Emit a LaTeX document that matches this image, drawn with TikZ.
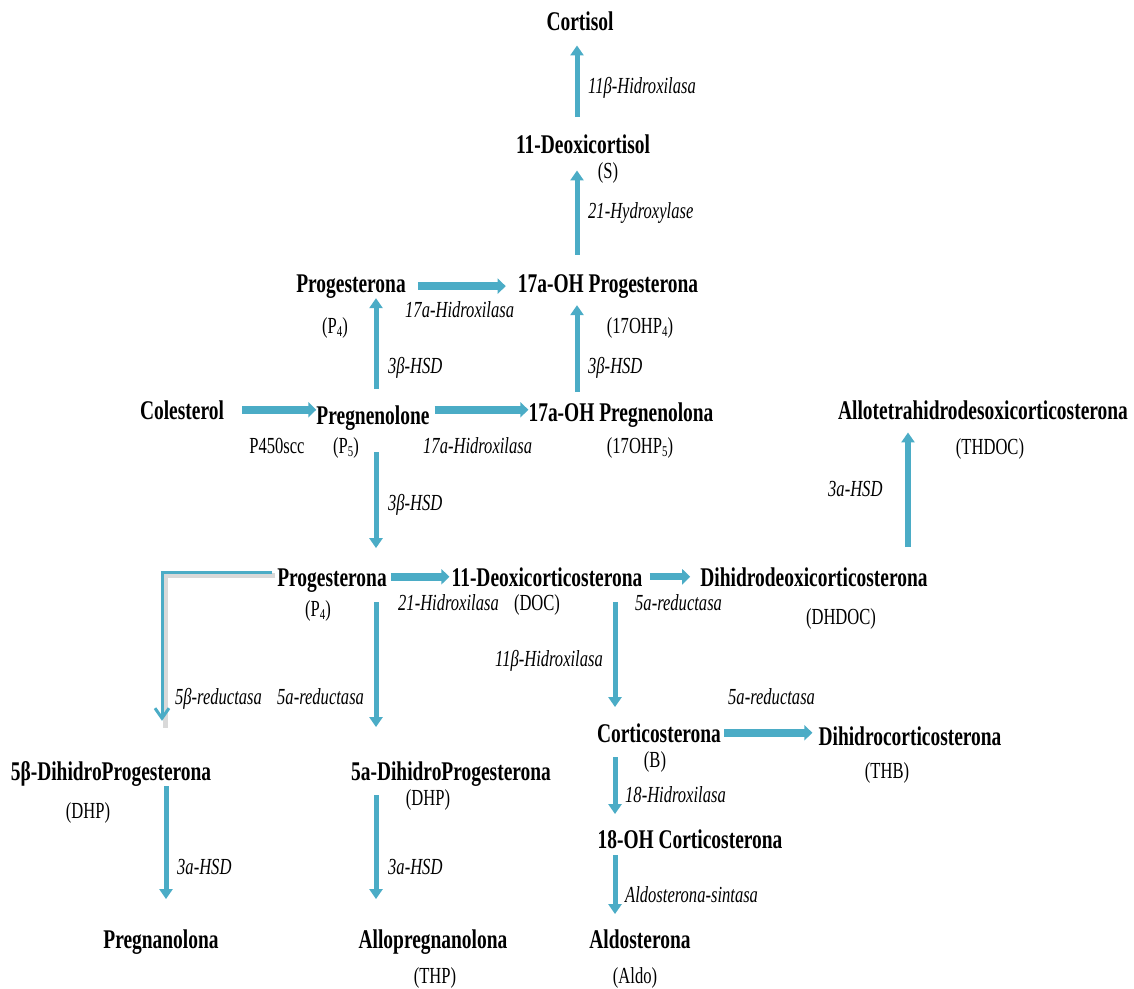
\documentclass[tikz,border=0pt]{standalone}
\usepackage{fontspec}
\setmainfont{Liberation Serif}[FakeStretch=0.72]
\usepackage{xcolor}
\usetikzlibrary{arrows.meta}
\definecolor{flowblue}{RGB}{75,172,198}
\newcommand{\lowidx}[1]{\raisebox{-0.3ex}{\fontsize{15}{15}\selectfont #1}}

\begin{document}
\begin{tikzpicture}[x=1pt, y=-1pt,
                    cmp/.style={anchor=base, inner sep=0pt, font=\fontsize{27}{30}\selectfont\bfseries},
                    abbr/.style={anchor=base, inner sep=0pt, font=\fontsize{23}{26}\selectfont},
                    enz/.style={anchor=base west, inner sep=0pt, font=\fontsize{23}{26}\selectfont\itshape},
                    vflow/.style={draw=flowblue, line width=5pt, -{Triangle[length=10pt,width=13pt]}},
                    hflow/.style={draw=flowblue, line width=8pt, -{Triangle[length=8pt,width=15pt]}}]
  \useasboundingbox (0,0) rectangle (1134,988);
  % columns of the vertical arrows
  \coordinate (cA) at (577,0);
  \coordinate (cB) at (376,0);
  \coordinate (cC) at (615,0);
  \coordinate (cD) at (908,0);
  \coordinate (cE) at (166,0);
  \coordinate (cL) at (162,0);

  % compounds
  \node[cmp] (cortisol) at (580,30) {Cortisol};
  \node[cmp] (deoxcort) at (583,153) {11-Deoxicortisol};
  \node[cmp] (progA) at (351,292) {Progesterona};
  \node[cmp] (ohprog) at (608,292) {17a-OH Progesterona};
  \node[cmp] (coles) at (182,419) {Colesterol};
  \node[cmp] (pregn) at (373,424) {Pregnenolone};
  \node[cmp] (ohpreg) at (621,421) {17a-OH Pregnenolona};
  \node[cmp] (allothdoc) at (983,419) {Allotetrahidrodesoxicorticosterona};
  \node[cmp] (progB) at (332,586) {Progesterona};
  \node[cmp] (doc) at (547,586) {11-Deoxicorticosterona};
  \node[cmp] (dhdoc) at (814,586) {Dihidrodeoxicorticosterona};
  \node[cmp] (cortic) at (659,742) {Corticosterona};
  \node[cmp] (dhcort) at (910,745) {Dihidrocorticosterona};
  \node[cmp] (dhpb) at (111,780) {5β-DihidroProgesterona};
  \node[cmp] (dhpa) at (451,780) {5a-DihidroProgesterona};
  \node[cmp] (ohcort) at (690,848) {18-OH Corticosterona};
  \node[cmp] (pregnan) at (161,948) {Pregnanolona};
  \node[cmp] (allop) at (433,948) {Allopregnanolona};
  \node[cmp] (aldo) at (640,948) {Aldosterona};

  % abbreviations
  \node[abbr] (s) at (608,178) {(S)};
  \node[abbr] (pfourA) at (335,333) {(P\lowidx{4})};
  \node[abbr] (ohpfour) at (640,333) {(17OHP\lowidx{4})};
  \node[abbr] (scc) at (277,453) {P450scc};
  \node[abbr] (pfive) at (346,453) {(P\lowidx{5})};
  \node[abbr] (ohpfive) at (640,453) {(17OHP\lowidx{5})};
  \node[abbr] (thdoc) at (990,454) {(THDOC)};
  \node[abbr] (pfourB) at (318,616) {(P\lowidx{4})};
  \node[abbr] (docab) at (537,610) {(DOC)};
  \node[abbr] (dhdocab) at (841,624) {(DHDOC)};
  \node[abbr] (b) at (655,767) {(B)};
  \node[abbr] (thb) at (887,778) {(THB)};
  \node[abbr] (dhpbab) at (88,818) {(DHP)};
  \node[abbr] (dhpaab) at (428,805) {(DHP)};
  \node[abbr] (thp) at (435,983) {(THP)};
  \node[abbr] (aldoab) at (635,983) {(Aldo)};

  % enzymes
  \node[enz] (eA) at (588,93) {11β-Hidroxilasa};
  \node[enz] (eB) at (588,218) {21-Hydroxylase};
  \node[enz] (eC) at (405,317) {17a-Hidroxilasa};
  \node[enz] (eD) at (388,373) {3β-HSD};
  \node[enz] (eE) at (588,373) {3β-HSD};
  \node[enz] (eF) at (423,453) {17a-Hidroxilasa};
  \node[enz] (eG) at (388,510) {3β-HSD};
  \node[enz] (eH) at (828,496) {3a-HSD};
  \node[enz] (eI) at (398,610) {21-Hidroxilasa};
  \node[enz] (eJ) at (635,610) {5a-reductasa};
  \node[enz] (eK) at (495,666) {11β-Hidroxilasa};
  \node[enz] (eL) at (175,704) {5β-reductasa};
  \node[enz] (eM) at (277,704) {5a-reductasa};
  \node[enz] (eN) at (728,704) {5a-reductasa};
  \node[enz] (eO) at (625,802) {18-Hidroxilasa};
  \node[enz] (eP) at (177,874) {3a-HSD};
  \node[enz] (eQ) at (388,874) {3a-HSD};
  \node[enz] (eR) at (625,902) {Aldosterona-sintasa};

  % horizontal steps
  \draw[hflow, shorten <=18pt] (coles.east) -- (coles.east -| pregn.west);
  \draw[hflow, shorten <=5pt] (coles.east -| pregn.east) -- (coles.east -| ohpreg.west);
  \draw[hflow, shorten <=12pt, shorten >=12pt] (progA.east) -- (progA.east -| ohprog.west);
  \draw[hflow, shorten <=4pt, shorten >=2pt] (doc.west -| progB.east) -- (doc.west);
  \draw[hflow, line width=7pt, shorten <=7pt, shorten >=10pt] (doc.east) -- (doc.east -| dhdoc.west);
  \draw[hflow, shorten <=3pt, shorten >=6pt] (cortic.east) -- (cortic.east -| dhcort.west);

  % vertical steps
  \draw[vflow, shorten <=17pt, shorten >=15pt] (deoxcort.north -| cA) -- (cortisol.south -| cA);
  \draw[vflow, shorten <=19pt, shorten >=17pt] (ohprog.north -| cA) -- (deoxcort.south -| cA);
  \draw[vflow, shorten <=10pt, shorten >=7pt] (ohpreg.north -| cA) -- (ohprog.south -| cA);
  \draw[vflow, shorten <=16pt] (pregn.north -| cB) -- (progA.south -| cB);
  \draw[vflow, shorten <=22pt, shorten >=20pt] (pregn.south -| cB) -- (progB.north -| cB);
  \draw[vflow, line width=6pt, shorten <=20pt, shorten >=13pt] (dhdoc.north -| cD) -- (allothdoc.south -| cD);
  \draw[vflow, shorten <=10pt, shorten >=34pt] (progB.south -| cB) -- (dhpa.north -| cB);
  \draw[vflow, shorten <=16pt, shorten >=16pt] (doc.south -| cC) -- (cortic.north -| cC);
  \draw[vflow, shorten <=15pt, shorten >=15pt] (cortic.south -| cC) -- (ohcort.north -| cC);
  \draw[vflow, shorten <=7pt, shorten >=15pt] (ohcort.south -| cC) -- (aldo.north -| cC);
  \draw[vflow, shorten >=30pt] (dhpb.south -| cE) -- (pregnan.north -| cE);
  \draw[vflow, shorten <=9pt, shorten >=30pt] (dhpa.south -| cB) -- (allop.north -| cB);

  % 5beta branch with its shadow
  \draw[gray!30, line width=5pt, shorten <=5pt, shorten >=36pt, transform canvas={xshift=3pt, yshift=-3pt}]
    ([yshift=8pt]progB.west) -| (dhpb.north -| cL);
  \draw[flowblue, line width=3pt, shorten <=5pt, shorten >=40pt, -{Straight Barb[length=10pt,width=14pt]}]
    ([yshift=8pt]progB.west) -| (dhpb.north -| cL);
\end{tikzpicture}
\end{document}
